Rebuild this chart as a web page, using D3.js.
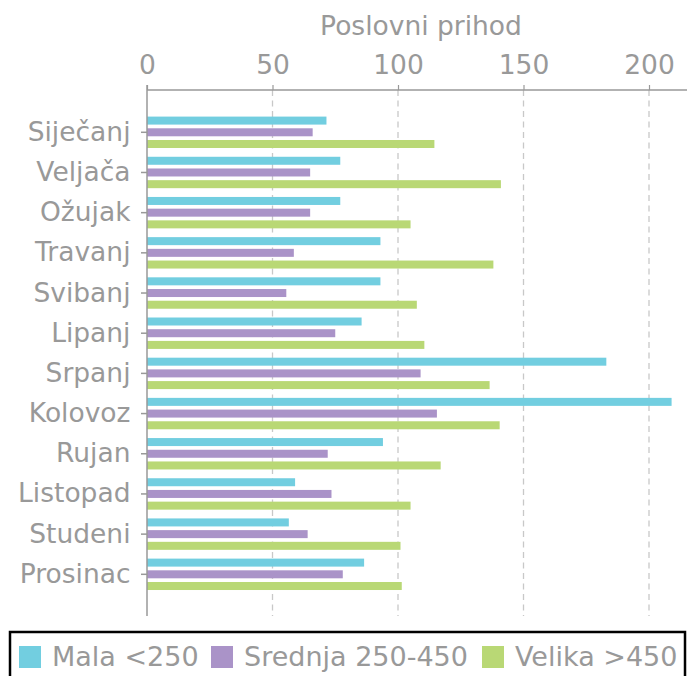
<!DOCTYPE html>
<html><head><meta charset="utf-8">
<script src="https://cdn.jsdelivr.net/npm/d3@7"></script>
<style>body{margin:0;background:#fff;}svg{display:block;}text{font-family:"DejaVu Sans",sans-serif;}</style>
</head><body>
<svg id="c" width="687" height="676"></svg>
<script>
const categories = ["Siječanj","Veljača","Ožujak","Travanj","Svibanj","Lipanj","Srpanj","Kolovoz","Rujan","Listopad","Studeni","Prosinac"];
const seriesNames = ["Mala <250","Srednja 250-450","Velika >450"];
const mala = [71.5,77,77,93,93,85.5,183,209,94,59,56.5,86.5];
const srednja = [66,65,65,58.5,55.5,75,109,115.5,72,73.5,64,78];
const velika = [114.5,141,105,138,107.5,110.5,136.5,140.5,117,105,101,101.5];
const xTicks = [0,50,100,150,200];
const colors = ["#72cee0","#aa93c8","#b9d875"];
const seriesData = [mala, srednja, velika];

const svg = d3.select("#c");
const x = d3.scaleLinear().domain([0,200]).range([147,649]);
const y = d3.scaleBand().domain(categories).range([112.2,594.4]).padding(0);
const sub = d3.scaleBand().domain(seriesNames).range([-17.55,17.55]).paddingInner(0.316).paddingOuter(0.158);
const gray = "#999";
const fs = 26.5;

// grid
svg.append("g").selectAll("line").data(xTicks.filter(d=>d>0)).join("line")
  .attr("x1",d=>x(d)).attr("x2",d=>x(d)).attr("y1",90).attr("y2",616)
  .attr("stroke","#c8c8c8").attr("stroke-width",1.3).attr("stroke-dasharray","6,4.5");

// bars
categories.forEach((c,i)=>{
  const cy = y(c)+y.bandwidth()/2;
  seriesNames.forEach((s,j)=>{
    svg.append("rect").attr("x",x(0)).attr("y",cy+sub(s))
      .attr("width",x(seriesData[j][i])-x(0)).attr("height",sub.bandwidth())
      .attr("fill",colors[j]);
  });
});

// top axis
const xa = svg.append("g").attr("transform","translate(0,90)")
  .call(d3.axisTop(x).tickValues(xTicks).tickSize(5).tickPadding(11));
xa.select(".domain").remove();
xa.append("line").attr("x1",147).attr("x2",687).attr("stroke",gray).attr("stroke-width",1.5);
xa.selectAll(".tick line").attr("stroke",gray).attr("stroke-width",1.2);
xa.selectAll(".tick text").attr("fill",gray).attr("font-size",fs).attr("font-family","DejaVu Sans");

// left axis
const ya = svg.append("g").attr("transform","translate(147,0)")
  .call(d3.axisLeft(y).tickSize(6).tickPadding(10.5));
ya.select(".domain").remove();
ya.append("line").attr("y1",85).attr("y2",616).attr("stroke",gray).attr("stroke-width",1.5);
ya.selectAll(".tick line").attr("stroke",gray).attr("stroke-width",1.5);
ya.selectAll(".tick text").attr("fill",gray).attr("font-size",fs).attr("font-family","DejaVu Sans");

// title
svg.append("text").attr("x",421).attr("y",35).attr("text-anchor","middle")
  .attr("fill",gray).attr("font-size",fs).text("Poslovni prihod");

// legend
svg.append("rect").attr("x",10).attr("y",632).attr("width",675).attr("height",60)
  .attr("fill","none").attr("stroke","#000").attr("stroke-width",2.5);
const legX = [19,211,482];
seriesNames.forEach((s,j)=>{
  svg.append("rect").attr("x",legX[j]).attr("y",646).attr("width",22).attr("height",22).attr("fill",colors[j]);
  svg.append("text").attr("x",legX[j]+33).attr("y",666).attr("fill",gray).attr("font-size",27).text(s);
});
</script>
</body></html>
